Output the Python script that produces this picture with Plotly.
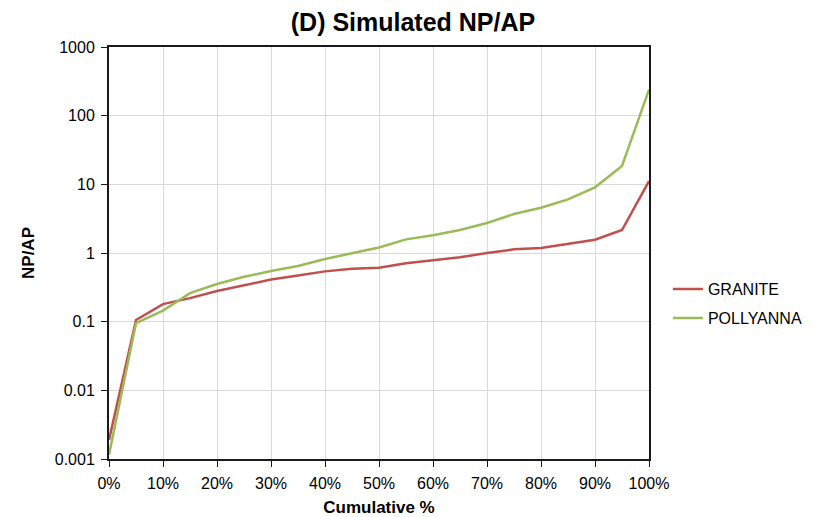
import plotly.graph_objects as go

# Cumulative percentile positions (%)
cumulative_pct = [0, 5, 10, 15, 20, 25, 30, 35, 40, 45, 50,
                  55, 60, 65, 70, 75, 80, 85, 90, 95, 100]

# Simulated NP/AP ratios per rock type
granite = [0.0019, 0.106, 0.18, 0.22, 0.28, 0.335, 0.41, 0.47, 0.54, 0.59, 0.61,
           0.71, 0.79, 0.865, 1.0, 1.13, 1.18, 1.37, 1.56, 2.16, 11.1]
pollyanna = [0.00115, 0.095, 0.145, 0.26, 0.354, 0.45, 0.547, 0.647, 0.82, 0.99, 1.2,
             1.58, 1.81, 2.16, 2.73, 3.7, 4.57, 6.03, 9.04, 18.5, 240]

y_ticks = [0.001, 0.01, 0.1, 1, 10, 100, 1000]
y_tick_labels = ["0.001", "0.01", "0.1", "1", "10", "100", "1000"]
x_ticks = list(range(0, 101, 10))
x_tick_labels = [f"{v}%" for v in x_ticks]

FONT = "Liberation Sans, Arial, sans-serif"

fig = go.Figure()
fig.add_trace(go.Scatter(x=cumulative_pct, y=granite, mode="lines", name="GRANITE",
                         legendgroup="granite",
                         line=dict(color="#C0504D", width=2.5)))
fig.add_trace(go.Scatter(x=cumulative_pct, y=pollyanna, mode="lines", name="POLLYANNA",
                         legendgroup="pollyanna",
                         line=dict(color="#9BBB59", width=2.5)))

fig.update_layout(
    width=826, height=517,
    margin=dict(l=109, r=177, t=47, b=58),
    paper_bgcolor="white", plot_bgcolor="white",
    font=dict(family=FONT, size=16, color="black"),
    title=dict(text="<b>(D) Simulated NP/AP</b>", x=0.5, xanchor="center",
               y=0.957, yanchor="middle", font=dict(size=25, family=FONT)),
    legend=dict(x=1.035, xanchor="left", y=0.377, yanchor="middle",
                font=dict(size=16, family=FONT), tracegroupgap=5,
                bgcolor="rgba(0,0,0,0)"),
)

fig.update_xaxes(
    range=[0, 100], tickvals=x_ticks, ticktext=x_tick_labels,
    showgrid=True, gridcolor="#d9d9d9", gridwidth=1,
    showline=True, linecolor="#1a1a1a", linewidth=2, mirror=True,
    ticks="outside", ticklen=6, tickcolor="#1a1a1a", zeroline=False,
    ticklabelstandoff=3, automargin=False,
    title=dict(text="<b>Cumulative %</b>", font=dict(size=17), standoff=10),
)
fig.update_yaxes(
    type="log", range=[-3, 3], tickvals=y_ticks, ticktext=y_tick_labels,
    showgrid=True, gridcolor="#d9d9d9", gridwidth=1,
    showline=True, linecolor="#1a1a1a", linewidth=2, mirror=True,
    ticks="outside", ticklen=6, tickcolor="#1a1a1a", zeroline=False,
    ticklabelstandoff=3, automargin=False,
    title=dict(text="<b>NP/AP</b>", font=dict(size=17), standoff=16),
)

fig.write_html("out.html")
